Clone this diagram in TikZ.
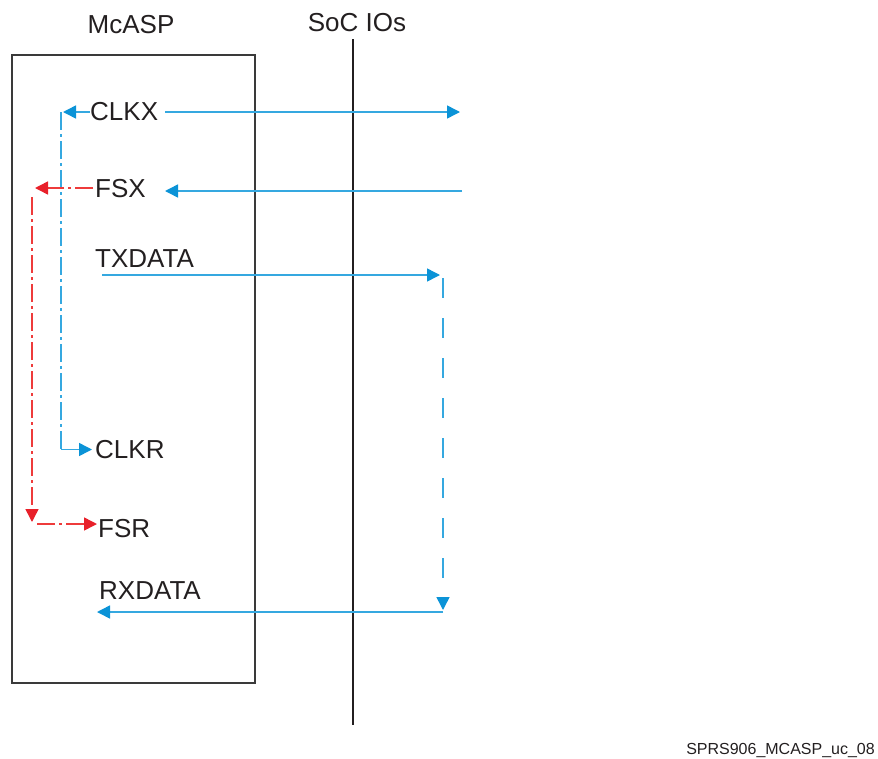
\documentclass[tikz,border=0pt]{standalone}
\usepackage{fontspec}
\setmainfont{Liberation Sans}
\usetikzlibrary{arrows.meta}
\definecolor{bline}{HTML}{35A8E0}
\definecolor{bhead}{HTML}{0B93D7}
\definecolor{rline}{HTML}{EE3B3B}
\definecolor{rhead}{HTML}{E8202A}
\definecolor{boxgray}{HTML}{3A3A3A}
\definecolor{txt}{HTML}{231F20}
\begin{document}
\begin{tikzpicture}[x=1pt,y=-1pt,
 lbl/.style={inner sep=0, anchor=west, font=\fontsize{26}{31}\selectfont, text=txt},
 bl/.style={draw=bline, line width=1.5pt},
 rl/.style={draw=rline, line width=1.5pt},
 btip/.style={-{Triangle[length=13pt,width=13pt,fill=bhead,color=bhead]}},
 rtip/.style={-{Triangle[length=13pt,width=13pt,fill=rhead,color=rhead]}},
 dashdot/.style={dash pattern=on 18pt off 4pt on 3pt off 4pt},
 longdash/.style={dash pattern=on 20pt off 20pt},
]
\useasboundingbox (0,0) rectangle (878,758);
% McASP box
\node[draw=boxgray, line width=1.3pt, minimum width=243pt, minimum height=628pt, inner sep=0] (box) at (133.5,369) {};
% titles
\node[lbl, anchor=center] (mcasp) at (131,25) {McASP};
\node[lbl, anchor=center] (soc) at (357,22.5) {SoC IOs};
% SoC boundary
\coordinate (soctop) at (353,39);
\coordinate (socbot) at (353,725);
\draw[line width=1.8pt, txt] (soctop) -- (socbot);
% signal labels
\node[lbl] (clkx) at (90,112) {CLKX};
\node[lbl] (fsx) at (95,188.5) {FSX};
\node[lbl] (txdata) at (95,259) {TXDATA};
\node[lbl] (clkr) at (95,449.5) {CLKR};
\node[lbl] (fsr) at (98,529) {FSR};
\node[lbl] (rxdata) at (99,591) {RXDATA};
\node[inner sep=0, anchor=base east, font=\fontsize{16}{19}\selectfont, text=txt] (cap) at (875,754) {SPRS906\_MCASP\_uc\_08};
% coordinates
\coordinate (clkxS) at (165,112);
\coordinate (clkxR) at (460,112);
\coordinate (clkxTip) at (63,112);
\coordinate (clkxL) at (61,112);
\coordinate (clkrL) at (61,449.5);
\coordinate (clkrTip) at (92,449.5);
\coordinate (fsxR) at (462,191);
\coordinate (fsxTip) at (165,191);
\coordinate (fsxS) at (93,188);
\coordinate (redTip) at (35,188);
\coordinate (redTop) at (32,197);
\coordinate (redBot) at (32,522);
\coordinate (fsrS) at (37,524);
\coordinate (fsrTip) at (97,524);
\coordinate (txS) at (102,275);
\coordinate (txE) at (440,275);
\coordinate (loopTop) at (443,278);
\coordinate (loopBot) at (443,610);
\coordinate (rxS) at (443,612);
\coordinate (rxTip) at (97,612);
% CLKX
\draw[bl,btip] (clkxS) -- (clkxR);
\draw[bl,btip] (clkx.west) -- (clkxTip);
\draw[bl,dashdot] (clkxL) -- (clkrL);
\draw[bl,btip] (clkrL) -- (clkrTip);
% FSX
\draw[bl,btip] (fsxR) -- (fsxTip);
\draw[rl,rtip,dashdot] (fsxS) -- (redTip);
\draw[rl,rtip,dashdot] (redTop) -- (redBot);
\draw[rl,rtip,dashdot] (fsrS) -- (fsrTip);
% data loop
\draw[bl,btip] (txS) -- (txE);
\draw[bl,btip,longdash] (loopTop) -- (loopBot);
\draw[bl,btip] (rxS) -- (rxTip);
\end{tikzpicture}
\end{document}
